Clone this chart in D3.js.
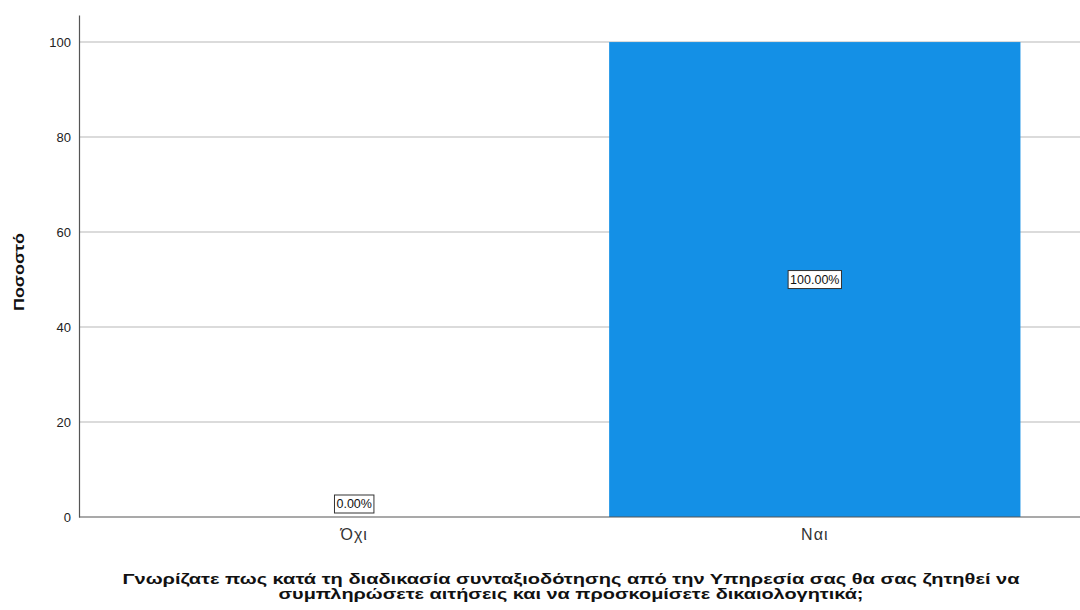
<!DOCTYPE html>
<html>
<head>
<meta charset="utf-8">
<script src="https://cdn.jsdelivr.net/npm/d3@7"></script>
<style>
  body { margin: 0; background: #fff; }
  text { font-family: Arial, "Liberation Sans", sans-serif; }
</style>
</head>
<body>
<svg></svg>
<script>
const categories = ['Όχι', 'Ναι'];
const percents = [0, 100];
const labels = ['0.00%', '100.00%'];
const yTicks = [0, 20, 40, 60, 80, 100];
const yTitle = 'Ποσοστό';
const xTitle = ['Γνωρίζατε πως κατά τη διαδικασία συνταξιοδότησης από την Υπηρεσία σας θα σας ζητηθεί να',
                'συμπληρώσετε αιτήσεις και να προσκομίσετε δικαιολογητικά;'];
const xTitleWidths = [897, 585];

const SVGsize = {w: 1080, h: 610};
const plot = {l: 79, r: 1090, t: 15, b: 517};

const svg = d3.select('svg')
    .attr('width', SVGsize.w)
    .attr('height', SVGsize.h);

const scaleX = d3.scaleBand()
    .domain(categories)
    .range([plot.l, plot.r])
    .paddingInner(0.107)
    .paddingOuter(0.151);

const scaleY = d3.scaleLinear()
    .domain([0, 105.7])
    .range([plot.b, plot.t]);

// gridlines
svg.append('g')
    .selectAll('line')
    .data(yTicks.filter(d => d > 0))
    .join('line')
    .attr('x1', plot.l)
    .attr('x2', SVGsize.w)
    .attr('y1', d => scaleY(d))
    .attr('y2', d => scaleY(d))
    .attr('stroke', '#cfcfcf')
    .attr('stroke-width', 1.5);

// bars
svg.append('g')
    .selectAll('rect')
    .data(percents)
    .join('rect')
    .attr('x', (d, i) => scaleX(categories[i]))
    .attr('width', scaleX.bandwidth())
    .attr('y', d => scaleY(d))
    .attr('height', d => scaleY(0) - scaleY(d))
    .attr('fill', '#1490e6');

// y axis
const axisY = d3.axisLeft(scaleY).tickValues(yTicks).tickSize(0).tickPadding(8);
const axisYG = svg.append('g')
    .attr('transform', `translate(${plot.l}, 0)`)
    .call(axisY);
axisYG.select('.domain').attr('stroke', '#555').attr('stroke-width', 1.2);
axisYG.selectAll('text').attr('font-size', 13).attr('fill', '#222')
    .attr('font-family', 'Arial, "Liberation Sans", sans-serif');

// x axis
const axisX = d3.axisBottom(scaleX).tickSize(0).tickPadding(12);
const axisXG = svg.append('g')
    .attr('transform', `translate(0, ${plot.b})`)
    .call(axisX);
axisXG.select('.domain').attr('stroke', '#555').attr('stroke-width', 1.2)
    .attr('d', `M${plot.l},0H${SVGsize.w}`);
axisXG.selectAll('text').attr('font-size', 16).attr('fill', '#333')
    .attr('letter-spacing', 1)
    .attr('font-family', 'Arial, "Liberation Sans", sans-serif');

// value labels
const lab = svg.append('g')
    .selectAll('g')
    .data(percents)
    .join('g')
    .attr('transform', (d, i) => {
        const cx = scaleX(categories[i]) + scaleX.bandwidth() / 2;
        const cy = d > 0 ? scaleY(d / 2) : scaleY(0) - 13;
        return `translate(${cx}, ${cy})`;
    });
lab.append('text')
    .attr('text-anchor', 'middle')
    .attr('dy', '0.35em')
    .attr('font-size', 12.5)
    .attr('fill', '#111')
    .text((d, i) => labels[i]);
lab.each(function() {
    const g = d3.select(this);
    const bb = g.select('text').node().getBBox();
    g.insert('rect', 'text')
        .attr('x', bb.x - 2)
        .attr('y', -9)
        .attr('width', bb.width + 4)
        .attr('height', 18)
        .attr('fill', '#fff')
        .attr('stroke', '#333')
        .attr('stroke-width', 1);
});

// axis titles
svg.append('text')
    .attr('transform', `translate(24, 272) rotate(-90)`)
    .attr('text-anchor', 'middle')
    .attr('font-size', 15)
    .attr('font-weight', 'bold')
    .attr('fill', '#111')
    .attr('textLength', 78)
    .attr('lengthAdjust', 'spacingAndGlyphs')
    .text(yTitle);

svg.append('text')
    .attr('text-anchor', 'middle')
    .attr('font-size', 15)
    .attr('font-weight', 'bold')
    .attr('fill', '#111')
    .selectAll('tspan')
    .data(xTitle)
    .join('tspan')
    .attr('x', 571)
    .attr('y', (d, i) => 584 + i * 15)
    .attr('textLength', (d, i) => xTitleWidths[i])
    .attr('lengthAdjust', 'spacingAndGlyphs')
    .text(d => d);
</script>
</body>
</html>
